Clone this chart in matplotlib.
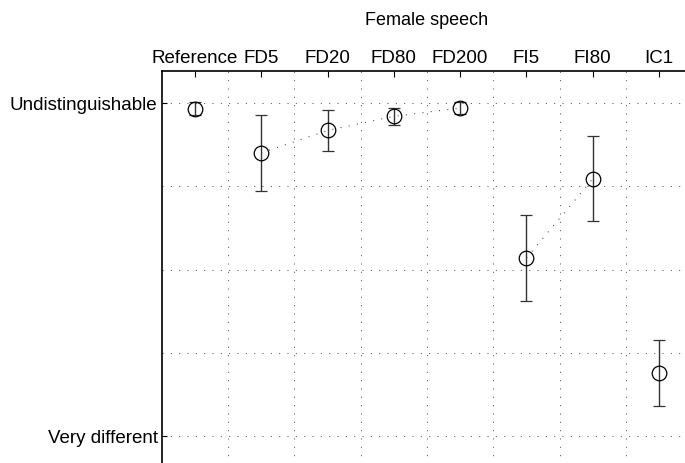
import matplotlib
matplotlib.use("Agg")
import matplotlib.pyplot as plt

# Listening test results: mean rating and spread per condition
categories = ["Reference", "FD5", "FD20", "FD80", "FD200", "FI5", "FI80", "IC1"]
means = [4.93, 4.40, 4.67, 4.84, 4.94, 3.14, 4.09, 1.755]
errors = [0.08, 0.46, 0.25, 0.10, 0.075, 0.52, 0.51, 0.40]
# conditions joined by a dotted line (indices into categories)
groups = [[0], [1, 2, 3, 4], [5, 6], [7]]
scale_ticks = [1, 5]
scale_labels = ["Very different", "Undistinguishable"]
title = "Female speech"

plt.rcParams["font.family"] = ["Liberation Sans", "DejaVu Sans"]
plt.rcParams["lines.scale_dashes"] = False

W, H = 685, 463
fig = plt.figure(figsize=(W / 100, H / 100), dpi=100)

# axes box in pixels (the lower and right edges run past the canvas)
left_px, right_px, top_px, bottom_px = 161.7, 692.3, 70.7, 469.3
ax = fig.add_axes([left_px / W, 1 - bottom_px / H,
                   (right_px - left_px) / W, (bottom_px - top_px) / H])
ax.set_xlim(0.5, 8.5)
ax.set_ylim(0.6, 5.388)

for s in ("right", "bottom"):
    ax.spines[s].set_visible(False)
for s in ("left", "top"):
    ax.spines[s].set_linewidth(1.2)

fs = 13.5
xs = list(range(1, len(categories) + 1))
ax.xaxis.tick_top()
ax.set_xticks(xs)
ax.set_xticklabels(categories, fontsize=fs)
ax.set_xticks([x + 0.5 for x in xs], minor=True)
ax.tick_params(axis="x", which="major", direction="in", length=4, width=0.8, pad=2.5)
ax.tick_params(axis="x", which="minor", length=0)

ax.set_yticks(scale_ticks)
ax.set_yticklabels(scale_labels, fontsize=fs)
ax.set_yticks([2, 3, 4], minor=True)
ax.tick_params(axis="y", which="major", direction="in", length=3.5, width=0.8, pad=3)
ax.tick_params(axis="y", which="minor", length=0)

dot = (0, (0.75, 5.25))
ax.xaxis.grid(True, which="minor", linestyle=dot, color="0.35", linewidth=0.75)
ax.yaxis.grid(True, which="both", linestyle=dot, color="0.35", linewidth=0.75)
ax.xaxis.grid(False, which="major")
ax.set_axisbelow(True)

for g in groups:
    if len(g) > 1:
        ax.plot([xs[i] for i in g], [means[i] for i in g],
                linestyle=dot, color="0.3", linewidth=0.8)

ax.errorbar(xs, means, yerr=errors, fmt="o", ms=10.5, mfc="none", mec="black",
            mew=0.9, ecolor="0.2", elinewidth=1.0, capsize=4.3, capthick=1.0)

fig.text(427 / W, 1 - 20.7 / H, title, ha="center", va="center", fontsize=13)

fig.savefig("out.png", dpi=100)
